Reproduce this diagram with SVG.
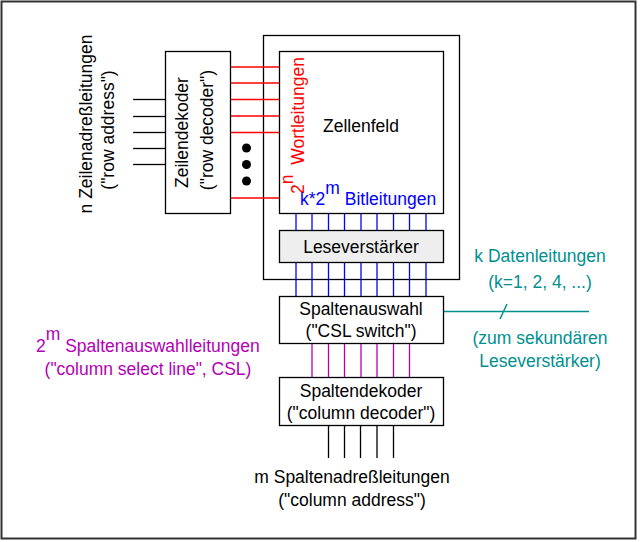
<svg xmlns="http://www.w3.org/2000/svg" width="640" height="542" viewBox="0 0 640 542">
<style>
.box{fill:#fff;stroke:#000;stroke-width:1.3}
.t{font-family:"Liberation Sans",Arial,sans-serif;font-size:17.5px;fill:#000}
.m{text-anchor:middle}
.red{fill:#ff0000}
.blue{fill:#0000ff}
.pur{fill:#b400b4}
.teal{fill:#009090}
.lk{stroke:#000;stroke-width:1.3}
.lr{stroke:#ff0000;stroke-width:1.3}
.lb{stroke:#0000ff;stroke-width:1.3}
.lp{stroke:#b400b4;stroke-width:1.3}
.lt{stroke:#009090;stroke-width:1.5}
</style>
<rect x="1.5" y="1.5" width="634" height="537" fill="#fff" stroke="#333" stroke-width="2"/>

<g id="row-address-label">
<text class="t m" transform="translate(92,124) rotate(-90) scale(1,1.08)">n Zeilenadreßleitungen</text>
<text class="t m" transform="translate(114,130) rotate(-90) scale(1,1.08)">("row address")</text>
</g>

<g id="chip">
<rect class="box" x="263.5" y="35.5" width="196" height="244"/>
</g>

<g id="zeilendekoder">
<rect class="box" x="165.5" y="51.5" width="65" height="162"/>
<text class="t m" transform="translate(188,132.5) rotate(-90) scale(1,1.08)">Zeilendekoder</text>
<text class="t m" transform="translate(213,130) rotate(-90) scale(1,1.08)">("row decoder")</text>
</g>

<g id="zellenfeld">
<rect class="box" x="279.5" y="51.5" width="164" height="162"/>
<text class="t m" transform="translate(361,132) scale(1,1.08)">Zellenfeld</text>
<text class="t red" transform="translate(304,194) rotate(-90) scale(1,1.08)">2<tspan dy="-10">n</tspan><tspan dy="10" dx="5"> Wortleitungen</tspan></text>
<text class="t blue" transform="translate(300,205) scale(1,1.08)">k*2<tspan dy="-10">m</tspan><tspan dy="10"> Bitleitungen</tspan></text>
</g>

<g id="leseverstaerker">
<rect x="279.5" y="230.5" width="164" height="32" fill="#eeeeee" stroke="#000" stroke-width="1.3"/>
<text class="t m" transform="translate(361,253) scale(1,1.08)">Leseverstärker</text>
</g>

<g id="spaltenauswahl">
<rect class="box" x="279.5" y="296.5" width="164" height="47"/>
<text class="t m" transform="translate(361,315) scale(1,1.08)">Spaltenauswahl</text>
<text class="t m" transform="translate(361,337) scale(1,1.08)">("CSL switch")</text>
</g>

<g id="spaltendekoder">
<rect class="box" x="279.5" y="377.5" width="164" height="48"/>
<text class="t m" transform="translate(361,397) scale(1,1.08)">Spaltendekoder</text>
<text class="t m" transform="translate(361,419) scale(1,1.08)">("column decoder")</text>
</g>

<g id="column-address-label">
<text class="t m" transform="translate(352,483) scale(1,1.08)">m Spaltenadreßleitungen</text>
<text class="t m" transform="translate(352,506) scale(1,1.08)">("column address")</text>
</g>

<g id="csl-label">
<text class="t pur" transform="translate(36,352) scale(1,1.08)">2<tspan dy="-11">m</tspan><tspan dy="11"> Spaltenauswahlleitungen</tspan></text>
<text class="t pur m" transform="translate(148,375) scale(1,1.08)">("column select line", CSL)</text>
</g>

<g id="data-label">
<text class="t teal m" transform="translate(540,262) scale(1,1.08)">k Datenleitungen</text>
<text class="t teal m" transform="translate(540,288) scale(1,1.08)">(k=1, 2, 4, ...)</text>
<text class="t teal m" transform="translate(540,344) scale(1,1.08)">(zum sekundären</text>
<text class="t teal m" transform="translate(540,367) scale(1,1.08)">Leseverstärker)</text>
</g>

<g id="connectors">
<g class="lk">
<line x1="133" y1="99.5" x2="165" y2="99.5"/>
<line x1="133" y1="116.5" x2="165" y2="116.5"/>
<line x1="133" y1="132.5" x2="165" y2="132.5"/>
<line x1="133" y1="148.5" x2="165" y2="148.5"/>
<line x1="133" y1="164.5" x2="165" y2="164.5"/>
<line x1="328.5" y1="426" x2="328.5" y2="458"/>
<line x1="344.5" y1="426" x2="344.5" y2="458"/>
<line x1="360.5" y1="426" x2="360.5" y2="458"/>
<line x1="377" y1="426" x2="377" y2="458"/>
<line x1="393.5" y1="426" x2="393.5" y2="458"/>
</g>
<g class="lr">
<line x1="231" y1="67" x2="279" y2="67"/>
<line x1="231" y1="83" x2="279" y2="83"/>
<line x1="231" y1="99.5" x2="279" y2="99.5"/>
<line x1="231" y1="116" x2="279" y2="116"/>
<line x1="231" y1="132.5" x2="279" y2="132.5"/>
<line x1="231" y1="198" x2="279" y2="198"/>
</g>
<g fill="#000">
<circle cx="246.5" cy="148" r="4.5"/>
<circle cx="246.5" cy="164.5" r="4.5"/>
<circle cx="246.5" cy="181" r="4.5"/>
</g>
<g class="lb">
<line x1="296" y1="214" x2="296" y2="230"/>
<line x1="312" y1="214" x2="312" y2="230"/>
<line x1="328.5" y1="214" x2="328.5" y2="230"/>
<line x1="344.5" y1="214" x2="344.5" y2="230"/>
<line x1="361" y1="214" x2="361" y2="230"/>
<line x1="377" y1="214" x2="377" y2="230"/>
<line x1="393.5" y1="214" x2="393.5" y2="230"/>
<line x1="409.5" y1="214" x2="409.5" y2="230"/>
<line x1="426" y1="214" x2="426" y2="230"/>
<line x1="296" y1="263" x2="296" y2="296"/>
<line x1="312" y1="263" x2="312" y2="296"/>
<line x1="328.5" y1="263" x2="328.5" y2="296"/>
<line x1="344.5" y1="263" x2="344.5" y2="296"/>
<line x1="361" y1="263" x2="361" y2="296"/>
<line x1="377" y1="263" x2="377" y2="296"/>
<line x1="393.5" y1="263" x2="393.5" y2="296"/>
<line x1="409.5" y1="263" x2="409.5" y2="296"/>
<line x1="426" y1="263" x2="426" y2="296"/>
</g>
<g class="lp">
<line x1="312" y1="344" x2="312" y2="377"/>
<line x1="328.5" y1="344" x2="328.5" y2="377"/>
<line x1="344.5" y1="344" x2="344.5" y2="377"/>
<line x1="361" y1="344" x2="361" y2="377"/>
<line x1="377" y1="344" x2="377" y2="377"/>
<line x1="393.5" y1="344" x2="393.5" y2="377"/>
<line x1="409.5" y1="344" x2="409.5" y2="377"/>
</g>
<g class="lt">
<line x1="444" y1="311.5" x2="589" y2="311.5"/>
<line x1="500" y1="319" x2="507" y2="304"/>
</g>
</g>
</svg>
